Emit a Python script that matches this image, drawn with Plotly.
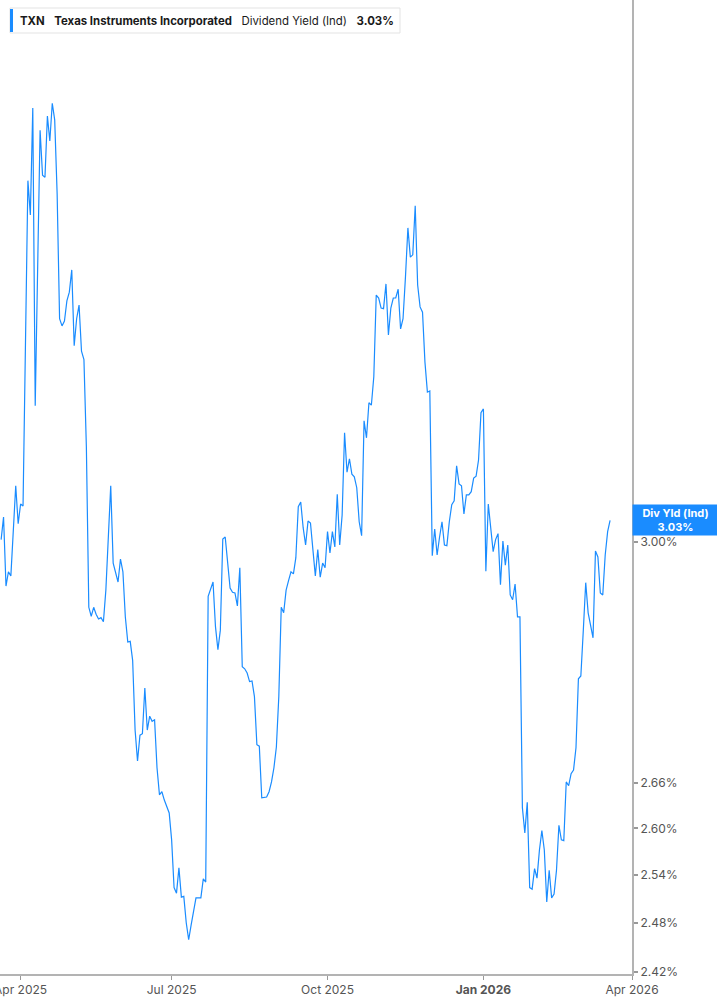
import numpy as np
import pandas as pd
import plotly.graph_objects as go

# Market holidays removed from the trading-day axis
HOLIDAYS = ["2025-04-18", "2025-05-26", "2025-06-19", "2025-07-04", "2025-09-01",
            "2025-11-27", "2025-12-25", "2026-01-01", "2026-01-19", "2026-02-16"]

# TXN dividend yield (indicated), %, one value per trading day 2025-03-20 .. 2026-03-19
div_yield = [
    3.004, 3.038, 2.935, 2.956, 2.950, 3.017, 3.086, 3.028, 3.058, 3.055,
    3.313, 3.595, 3.534, 3.728, 3.212, 3.478, 3.687, 3.605, 3.601, 3.713,
    3.667, 3.737, 3.706, 3.571, 3.355, 3.343, 3.351, 3.385, 3.400, 3.438,
    3.310, 3.355, 3.378, 3.301, 3.287, 3.147, 2.904, 2.891, 2.904, 2.894,
    2.887, 2.889, 2.883, 2.929, 3.010, 3.086, 2.969, 2.956, 2.941, 2.975,
    2.956, 2.890, 2.854, 2.855, 2.828, 2.731, 2.689, 2.724, 2.726, 2.789,
    2.731, 2.750, 2.743, 2.745, 2.680, 2.644, 2.648, 2.637, 2.627, 2.620,
    2.585, 2.524, 2.517, 2.549, 2.512, 2.513, 2.480, 2.459, 2.477, 2.496,
    2.511, 2.511, 2.511, 2.535, 2.531, 2.920, 2.931, 2.941, 2.876, 2.843,
    2.871, 3.005, 3.008, 2.969, 2.932, 2.926, 2.925, 2.906, 2.962, 2.819,
    2.816, 2.810, 2.798, 2.799, 2.777, 2.711, 2.709, 2.640, 2.641, 2.641,
    2.648, 2.661, 2.680, 2.708, 2.777, 2.904, 2.896, 2.929, 2.943, 2.956,
    2.953, 2.977, 3.054, 3.061, 3.022, 2.996, 3.032, 3.029, 2.989, 2.950,
    2.989, 2.948, 2.969, 2.962, 3.016, 2.984, 3.016, 2.993, 3.073, 2.996,
    3.041, 3.169, 3.107, 3.128, 3.104, 3.100, 3.083, 3.031, 3.010, 3.188,
    3.161, 3.217, 3.213, 3.259, 3.395, 3.390, 3.373, 3.372, 3.414, 3.328,
    3.373, 3.390, 3.390, 3.405, 3.338, 3.355, 3.426, 3.511, 3.460, 3.464,
    3.550, 3.412, 3.375, 3.366, 3.283, 3.234, 3.236, 2.980, 3.020, 2.981,
    3.008, 3.031, 2.996, 2.995, 3.031, 3.057, 3.063, 3.117, 3.089, 3.086,
    3.043, 3.072, 3.072, 3.077, 3.098, 3.101, 3.126, 3.201, 3.207, 2.957,
    3.058, 3.017, 2.986, 3.004, 3.013, 2.937, 3.002, 2.966, 2.996, 2.922,
    2.915, 2.938, 2.890, 2.890, 2.627, 2.594, 2.634, 2.524, 2.522, 2.548,
    2.536, 2.572, 2.597, 2.572, 2.506, 2.546, 2.511, 2.516, 2.546, 2.604,
    2.585, 2.584, 2.661, 2.656, 2.672, 2.677, 2.707, 2.802, 2.806, 2.870,
    2.940, 2.896, 2.878, 2.860, 2.987, 2.978, 2.925, 2.922, 2.981, 3.016,
    3.033,
]

dates = pd.bdate_range("2025-03-20", "2026-03-19", freq="C", holidays=HOLIDAYS)

x_tickvals = ["2025-04-01", "2025-07-01", "2025-10-01", "2026-01-02", "2026-04-01"]
x_ticktext = ["Apr 2025", "Jul 2025", "Oct 2025", "<b>Jan 2026</b>", "Apr 2026"]
y_tickvals = [2.42, 2.48, 2.54, 2.60, 2.66, 3.00]
y_ticktext = ["2.42%", "2.48%", "2.54%", "2.60%", "2.66%", "3.00%"]

BLUE = "#1a8cff"
W, H = 717, 1005
L, R, T, B = 0, 85, 0, 31
pw, ph = W - L - R, H - T - B

fig = go.Figure(go.Scatter(
    x=dates, y=div_yield, mode="lines",
    line=dict(color=BLUE, width=1.2),
    hoverinfo="skip",
))

last = div_yield[-1]

fig.update_layout(
    width=W, height=H,
    margin=dict(l=L, r=R, t=T, b=B),
    plot_bgcolor="white", paper_bgcolor="white",
    showlegend=False,
    font=dict(family="Inter, Roboto, sans-serif", size=12, color="#555"),
    xaxis=dict(
        type="date",
        range=["2025-03-19 13:00", "2026-04-01"],
        rangebreaks=[dict(bounds=["sat", "mon"]), dict(values=HOLIDAYS)],
        tickvals=x_tickvals, ticktext=x_ticktext,
        ticks="outside", ticklen=4, tickcolor="#999",
        ticklabeloverflow="allow", automargin=False,
        showline=True, linecolor="#b3b3b3", linewidth=2,
        showgrid=False, zeroline=False,
        tickfont=dict(size=12, color="#555"),
    ),
    yaxis=dict(
        type="log", side="right",
        range=[0.383315, 0.594955],
        tickvals=y_tickvals, ticktext=y_ticktext,
        ticks="outside", ticklen=4, tickwidth=2, tickcolor="#999",
        automargin=False,
        showline=True, linecolor="#b3b3b3", linewidth=2,
        showgrid=False, zeroline=False,
        tickfont=dict(size=12, color="#555"),
    ),
)

# legend-like header box
fig.add_shape(type="rect", xref="paper", yref="paper",
              x0=10 / pw, x1=400 / pw, y0=1 - 33 / ph, y1=1 - 8 / ph,
              line=dict(color="#e3e3e3", width=1), fillcolor="white", layer="above")
fig.add_shape(type="rect", xref="paper", yref="paper",
              x0=10 / pw, x1=13 / pw, y0=1 - 32 / ph, y1=1 - 9 / ph,
              line=dict(width=0), fillcolor=BLUE, layer="above")
sp = "\u00a0\u00a0\u00a0"
fig.add_annotation(
    xref="paper", yref="paper", x=18 / pw, y=1 - 20.5 / ph,
    xanchor="left", yanchor="middle", showarrow=False,
    text=f"<b>TXN</b>{sp}<b>Texas Instruments Incorporated</b>{sp}Dividend Yield (Ind){sp}<b>{last:.2f}%</b>",
    font=dict(family="Inter, sans-serif", size=11.4, color="#1a1a1a"),
)

# last value label on the right axis
fig.add_annotation(
    xref="paper", yref="y", x=1, y=np.log10(last),
    xanchor="left", yanchor="middle", showarrow=False,
    text=f"<b>Div Yld (Ind)</b><br><b>{last:.2f}%</b>",
    font=dict(family="Inter, sans-serif", size=11, color="white"),
    bgcolor=BLUE, width=83, borderpad=1, align="center",
)

fig.write_html("out.html", config={"displayModeBar": False},
               post_script="document.body.style.margin='0px';")
